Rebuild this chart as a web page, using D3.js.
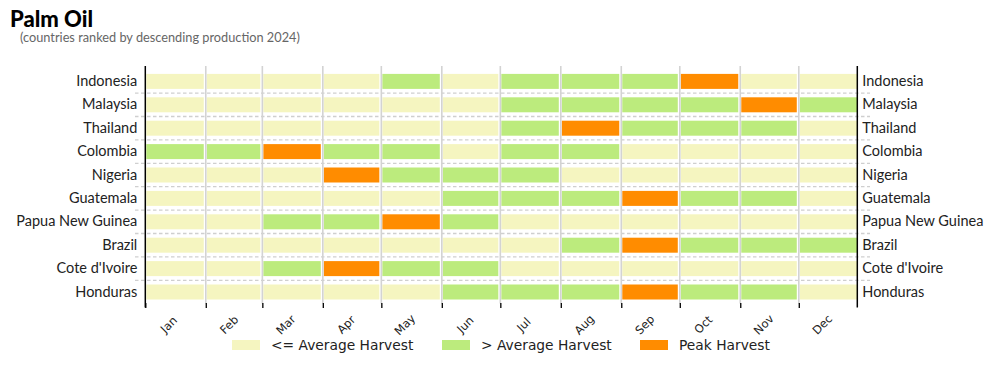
<!DOCTYPE html>
<html>
<head>
<meta charset="utf-8">
<script src="https://cdn.jsdelivr.net/npm/d3@7"></script>
<style>
  body { margin: 0; background: #fff; }
  svg { display: block; }
</style>
</head>
<body>
<div id="chart"></div>
<script>
const countries = ["Indonesia", "Malaysia", "Thailand", "Colombia", "Nigeria",
  "Guatemala", "Papua New Guinea", "Brazil", "Cote d'Ivoire", "Honduras"];
const months = ["Jan","Feb","Mar","Apr","May","Jun","Jul","Aug","Sep","Oct","Nov","Dec"];
// 0 = <= Average Harvest, 1 = > Average Harvest, 2 = Peak Harvest
const Indonesia      = [0,0,0,0,1,0,1,1,1,2,0,0];
const Malaysia       = [0,0,0,0,0,0,1,1,1,1,2,1];
const Thailand       = [0,0,0,0,0,0,1,2,1,1,1,0];
const Colombia       = [1,1,2,1,1,0,1,1,0,0,0,0];
const Nigeria        = [0,0,0,2,1,1,1,0,0,0,0,0];
const Guatemala      = [0,0,0,0,0,1,1,1,2,1,1,0];
const PapuaNewGuinea = [0,0,1,1,2,1,0,0,0,0,0,0];
const Brazil         = [0,0,0,0,0,0,0,1,2,1,1,1];
const CoteDIvoire    = [0,0,1,2,1,1,0,0,0,0,0,0];
const Honduras       = [0,0,0,0,0,1,1,1,2,1,1,0];
const seriesValues = [Indonesia, Malaysia, Thailand, Colombia, Nigeria,
  Guatemala, PapuaNewGuinea, Brazil, CoteDIvoire, Honduras];
const legendLabels = ["<= Average Harvest", "> Average Harvest", "Peak Harvest"];
const colors = ["#f5f5c0", "#bceb7d", "#ff8c00"];
const titleText = "Palm Oil";
const subtitleText = "(countries ranked by descending production 2024)";
const year = 2024;

(function () {
const W = 994, H = 368;
const svg = d3.select("#chart").append("svg").attr("width", W).attr("height", H);

const x = d3.scaleTime()
  .domain([new Date(year, 0, 1), new Date(year, 11, 31)])
  .range([145.3, 857.3]).clamp(true);
const y = d3.scaleBand().domain(countries).range([69.7, 303.7]).padding(0);
const color = d3.scaleOrdinal().domain([0,1,2]).range(colors);

const plotTop = 66, plotBottom = 303.5;
const monthStarts = months.map((m, i) => new Date(year, i, 1));
const monthEnds = months.map((m, i) => i < 11 ? new Date(year, i + 1, 1) : new Date(year, 11, 31));

// title
svg.append("text").attr("x", 10).attr("y", 26.5)
  .attr("font-family", "Lato, 'Noto Sans', sans-serif").attr("font-weight", 900)
  .attr("font-size", 22).attr("fill", "#000").text(titleText);
svg.append("text").attr("x", 20).attr("y", 41.5)
  .attr("font-family", "Lato, 'Noto Sans', sans-serif")
  .attr("font-size", 12.75).attr("fill", "#666").text(subtitleText);

// cells
const cells = [];
countries.forEach((c, r) => seriesValues[r].forEach((v, m) => cells.push({c, m, v})));
const cellH = 15;
svg.append("g").selectAll("rect").data(cells).join("rect")
  .attr("x", d => x(monthStarts[d.m]) + 1)
  .attr("width", d => x(monthEnds[d.m]) - x(monthStarts[d.m]) - (d.m === 11 ? 1 : 3))
  .attr("y", d => y(d.c) + (y.step() - cellH) / 2)
  .attr("height", cellH)
  .attr("fill", d => color(d.v));

// horizontal dashed separators
svg.append("g").selectAll("line").data(countries.slice(1)).join("line")
  .attr("x1", 135).attr("x2", 870)
  .attr("y1", d => y(d)).attr("y2", d => y(d))
  .attr("stroke", "#cfcfcf").attr("stroke-width", 1.3)
  .attr("stroke-dasharray", "3.5,2.5");

// vertical month grid lines
svg.append("g").selectAll("line").data(monthStarts.slice(1)).join("line")
  .attr("x1", d => x(d)).attr("x2", d => x(d))
  .attr("y1", plotTop).attr("y2", plotBottom)
  .attr("stroke", "#d3d3d3").attr("stroke-width", 1.6);

// x axis ticks
const xAxis = d3.axisBottom(x).tickValues(monthStarts).tickSize(5).tickFormat("");
const gx = svg.append("g").attr("transform", `translate(0,${plotBottom - 0.5})`).call(xAxis);
gx.select(".domain").remove();
gx.selectAll(".tick line").attr("stroke", "#000").attr("stroke-width", 1.3);

// month labels
svg.append("g").selectAll("text").data(months).join("text")
  .attr("transform", (d, i) => {
    const mid = new Date(year, i, 15);
    return `translate(${x(mid) - 3.5},${325}) rotate(-45)`;
  })
  .attr("text-anchor", "middle").attr("dominant-baseline", "middle")
  .attr("font-family", "'DejaVu Sans', sans-serif").attr("font-size", 11.5)
  .attr("fill", "#222").text(d => d);

// left & right axes
const yl = svg.append("g").attr("transform", "translate(145.3,0)")
  .call(d3.axisLeft(y).tickSize(0).tickPadding(8));
const yr = svg.append("g").attr("transform", "translate(857.3,0)")
  .call(d3.axisRight(y).tickSize(0).tickPadding(5));
[yl, yr].forEach(g => {
  g.select(".domain").remove();
  g.selectAll("text").attr("font-family", "Lato, 'Noto Sans', sans-serif")
    .attr("font-size", 14.5).attr("fill", "#222");
});
[145.3, 857.3].forEach(xx => svg.append("line")
  .attr("x1", xx).attr("x2", xx).attr("y1", plotTop).attr("y2", plotBottom + 4)
  .attr("stroke", "#000").attr("stroke-width", 1.5));

// legend
const legX = [232, 442, 640];
const lg = svg.append("g");
legendLabels.forEach((lab, i) => {
  lg.append("rect").attr("x", legX[i]).attr("y", 340).attr("width", 28).attr("height", 10)
    .attr("fill", colors[i]);
  lg.append("text").attr("x", legX[i] + 39).attr("y", 345.5)
    .attr("dominant-baseline", "middle")
    .attr("font-family", "'DejaVu Sans', sans-serif").attr("font-size", 13.8)
    .attr("fill", "#222").text(lab);
});
})();
</script>
</body>
</html>
